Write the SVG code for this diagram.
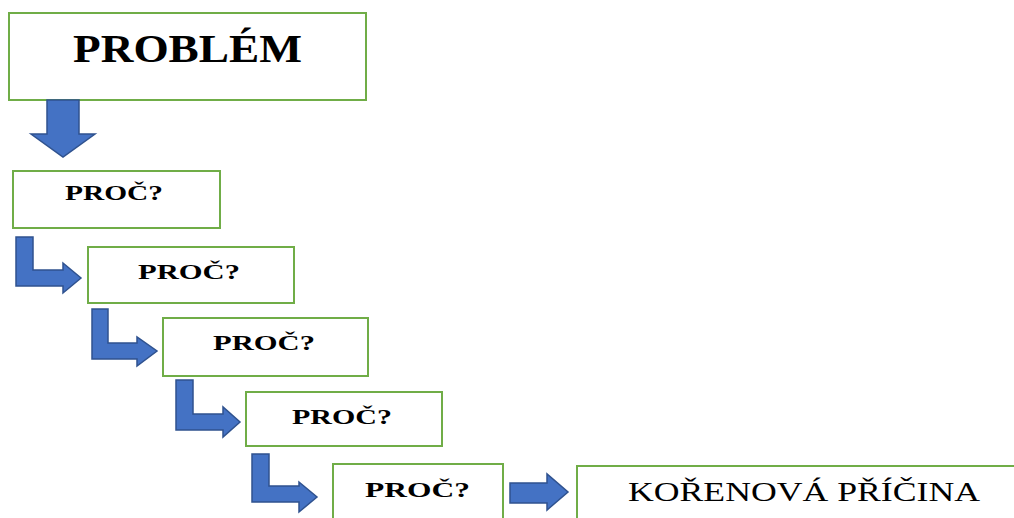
<svg xmlns="http://www.w3.org/2000/svg" width="1014" height="518" viewBox="0 0 1014 518">
<style>
.box{fill:#fff;stroke:#70AD47;stroke-width:2}
.arr{fill:#4472C4;stroke:#2F528F;stroke-width:1.5;stroke-linejoin:miter}
.t{font-family:"Liberation Serif","Times New Roman",serif;fill:#000}
.b{font-weight:bold;font-size:22px}
</style>
<rect width="1014" height="518" fill="#fff"/>
<g id="problem">
<rect class="box" x="9" y="13" width="357" height="87"/>
<text class="t" x="73" y="62" font-size="39" font-weight="bold" textLength="229" lengthAdjust="spacingAndGlyphs">PROBLÉM</text>
</g>
<g id="proc1">
<rect class="box" x="13" y="171" width="207" height="57"/>
<text class="t b" x="65" y="199.5" textLength="98" lengthAdjust="spacingAndGlyphs">PROČ?</text>
</g>
<g id="proc2">
<rect class="box" x="88" y="247" width="206" height="56"/>
<text class="t b" x="138" y="278.5" textLength="102" lengthAdjust="spacingAndGlyphs">PROČ?</text>
</g>
<g id="proc3">
<rect class="box" x="163" y="318" width="205" height="58"/>
<text class="t b" x="213" y="349.5" textLength="102" lengthAdjust="spacingAndGlyphs">PROČ?</text>
</g>
<g id="proc4">
<rect class="box" x="246" y="392" width="196" height="54"/>
<text class="t b" x="292" y="424" textLength="100" lengthAdjust="spacingAndGlyphs">PROČ?</text>
</g>
<g id="proc5">
<rect class="box" x="333" y="464" width="170" height="70"/>
<text class="t b" x="365" y="497" textLength="105" lengthAdjust="spacingAndGlyphs">PROČ?</text>
</g>
<g id="root">
<rect class="box" x="577" y="466" width="460" height="70"/>
<text class="t" x="628" y="501" font-size="27" textLength="352" lengthAdjust="spacingAndGlyphs">KOŘENOVÁ PŘÍČINA</text>
</g>
<g id="connectors">
<polygon class="arr" points="47,100 79,100 79,134 95,134 63,157 31,134 47,134"/>
<polygon class="arr" points="16,237 33,237 33,270 63,270 63,263 81,278 63,293 63,286 16,286"/>
<polygon class="arr" points="92,309 108,309 108,343 137,343 137,337 157,351 137,366 137,359 92,359"/>
<polygon class="arr" points="176,380 193,380 193,414 223,414 223,407 240,422 223,437 223,430 176,430"/>
<polygon class="arr" points="252,454 269,454 269,486 299,486 299,482 317,497 299,512 299,502 252,502"/>
<polygon class="arr" points="510,483 547,483 547,474 568,492 547,510 547,503 510,503"/>
</g>
</svg>
